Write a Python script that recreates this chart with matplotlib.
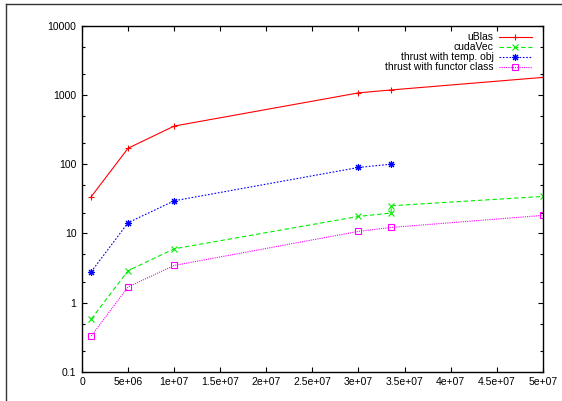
import matplotlib
matplotlib.use("Agg")
import matplotlib.pyplot as plt
from matplotlib.lines import Line2D
from matplotlib.ticker import FixedLocator, FixedFormatter, NullFormatter

plt.rcParams["font.family"] = ["Liberation Sans", "DejaVu Sans"]

# sizes of the vectors (x axis)
sizes = [1e6, 5e6, 1e7, 3e7, 33554432, 5e7]
sizes_cuda = [1e6, 5e6, 1e7, 3e7, 33554432, 33554432, 5e7]
sizes_temp = [1e6, 5e6, 1e7, 3e7, 33554432]

ublas = [34, 170, 355, 1070, 1180, 1790]
cudavec = [0.58, 2.9, 6.0, 17.6, 19.7, 25.1, 34.2]
thrust_temp = [2.8, 14.3, 29.6, 89.6, 100]
thrust_functor = [0.33, 1.69, 3.45, 10.7, 12.2, 18.2]

xticks = [0, 5e6, 1e7, 1.5e7, 2e7, 2.5e7, 3e7, 3.5e7, 4e7, 4.5e7, 5e7]
xtick_labels = ["0", "5e+06", "1e+07", "1.5e+07", "2e+07", "2.5e+07",
                "3e+07", "3.5e+07", "4e+07", "4.5e+07", "5e+07"]
yticks = [0.1, 1, 10, 100, 1000, 10000]
ytick_labels = ["0.1", "1", "10", "100", "1000", "10000"]


def plot_timings():
    fig = plt.figure(figsize=(5.62, 4.01), dpi=100)
    ax = fig.add_axes([0.146, 0.0725, 0.8197, 0.8635])

    lw = 0.8
    ax.plot(sizes, ublas, color="#ff0000", lw=lw, marker="+", ms=5,
            mew=0.8, label="uBlas")
    ax.plot(sizes_cuda, cudavec, color="#00ee00", lw=lw, ls=(0, (4, 2.5)),
            marker="x", ms=4, mew=0.8, label="cudaVec")
    ax.plot(sizes_temp, thrust_temp, color="#0000ff", lw=lw, ls=(0, (1.5, 1.5)),
            marker=(8, 2, 0), ms=5, mew=0.8, label="thrust with temp. obj")
    ax.plot(sizes, thrust_functor, color="#ff00ff", lw=lw, ls=(0, (1, 1)),
            marker="s", ms=4.5, mew=0.8, mfc="none", label="thrust with functor class")

    ax.set_yscale("log")
    ax.set_xlim(0, 5e7)
    ax.set_ylim(0.1, 10000)

    ax.xaxis.set_major_locator(FixedLocator(xticks))
    ax.xaxis.set_major_formatter(FixedFormatter(xtick_labels))
    ax.yaxis.set_major_locator(FixedLocator(yticks))
    ax.yaxis.set_major_formatter(FixedFormatter(ytick_labels))
    minor = [m * d for d in [0.1, 1, 10, 100, 1000] for m in (2, 5)]
    ax.yaxis.set_minor_locator(FixedLocator(minor))
    ax.yaxis.set_minor_formatter(NullFormatter())

    ax.tick_params(which="both", direction="in", top=True, right=True,
                   labelsize=7.5, width=0.8, pad=4)
    ax.tick_params(which="major", length=3.5)
    ax.tick_params(which="minor", length=2)
    for s in ax.spines.values():
        s.set_linewidth(1.0)

    ax.legend(loc="upper right", bbox_to_anchor=(0.995, 1.005), frameon=False,
              markerfirst=False, fontsize=7.5, handlelength=3.2,
              labelspacing=0.0, borderpad=0.3, handletextpad=0.5)

    # outer frame of the page
    fig.add_artist(Line2D([6 / 562, 6 / 562], [0, 1 - 4 / 401], color="#333333", lw=1.0))
    fig.add_artist(Line2D([6 / 562, 1], [1 - 4 / 401, 1 - 4 / 401], color="#333333", lw=1.0))

    fig.savefig("out.png", dpi=100)


if __name__ == "__main__":
    plot_timings()
